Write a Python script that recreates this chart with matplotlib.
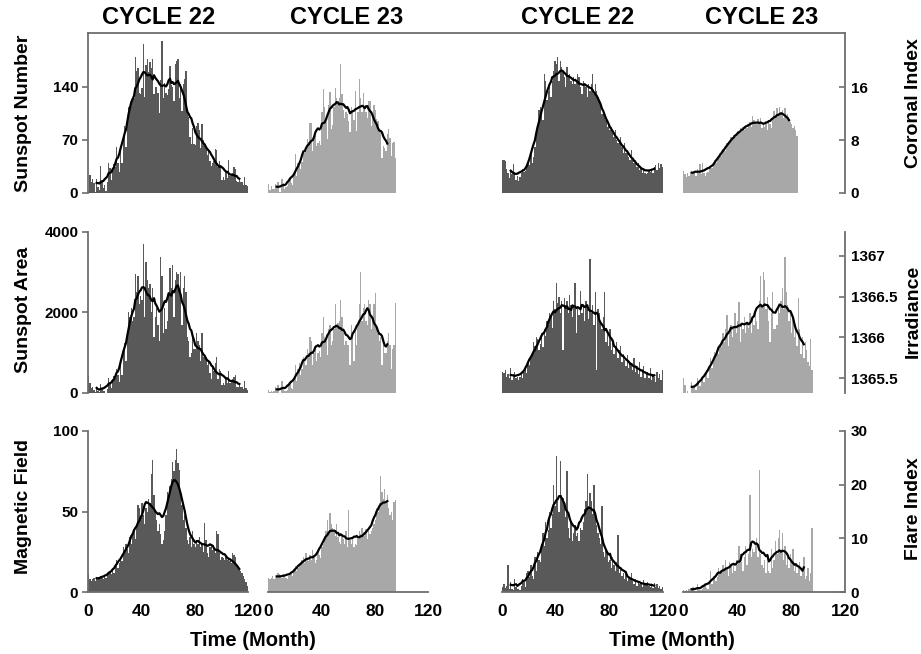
import numpy as np
import pandas as pd
import matplotlib
matplotlib.use("Agg")
import matplotlib.pyplot as plt
from matplotlib.lines import Line2D

plt.rcParams['font.family'] = ['Liberation Sans', 'DejaVu Sans']
plt.rcParams['font.weight'] = 'bold'

# monthly values, cycle 22 from Jan 1986 (120 months), cycle 23 from Jan 1996
ssn_c22 = [2.5, 23.2, 15.1, 18.5, 13.7, 1.1, 18.1, 7.4, 3.8, 35.4, 15.2, 6.8,
           10.4, 2.4, 14.7, 39.6, 33.0, 17.4, 33.0, 38.7, 33.9, 60.6, 39.9, 27.1,
           59.0, 40.0, 76.2, 88.0, 60.1, 101.8, 113.8, 111.6, 120.1, 125.1, 125.1, 179.2,
           161.3, 165.0, 131.4, 130.6, 138.5, 196.2, 126.9, 168.9, 176.7, 159.4, 173.0, 165.5,
           177.3, 130.5, 140.3, 140.3, 132.2, 105.4, 149.4, 200.3, 125.2, 145.5, 131.4, 129.7,
           136.9, 167.5, 141.9, 140.0, 121.3, 169.7, 173.7, 176.3, 125.3, 144.1, 108.2, 144.4,
           150.0, 161.1, 106.7, 99.8, 73.8, 65.2, 85.7, 64.5, 63.9, 88.7, 91.8, 82.6,
           59.3, 91.0, 69.8, 62.2, 61.3, 49.8, 57.9, 42.4, 35.5, 40.1, 42.6, 58.4,
           56.5, 34.6, 42.8, 36.3, 17.5, 21.4, 17.1, 27.3, 19.6, 43.5, 22.0, 24.2,
           26.6, 34.0, 31.1, 16.4, 15.1, 17.7, 14.8, 14.8, 10.2, 21.0, 10.3, 9.4]
ssn_c23 = [11.5, 4.4, 9.2, 4.8, 5.5, 11.8, 8.2, 14.4, 1.6, 0.9, 17.9, 13.3,
           5.7, 7.6, 8.7, 15.5, 18.5, 12.7, 10.4, 24.4, 51.3, 22.8, 39.0, 41.2,
           31.9, 40.3, 54.8, 53.4, 56.3, 70.7, 66.6, 92.2, 92.9, 55.5, 74.0, 81.9,
           62.0, 66.3, 68.8, 63.7, 106.4, 137.7, 113.5, 93.7, 71.5, 116.7, 133.2, 84.6,
           90.1, 112.9, 138.5, 125.5, 121.6, 124.9, 170.1, 130.5, 109.7, 99.4, 106.8, 104.4,
           95.6, 80.6, 113.5, 107.7, 96.6, 134.0, 81.8, 106.4, 150.7, 125.5, 106.5, 132.2,
           114.1, 107.4, 98.4, 120.7, 120.8, 88.3, 99.6, 116.4, 109.6, 97.5, 95.0, 81.6,
           79.5, 46.2, 61.8, 60.0, 55.2, 77.4, 85.0, 72.7, 48.8, 65.5, 67.3, 46.5]

area_c22 = [420, 250, 120, 150, 80, 20, 110, 60, 20, 230, 90, 40,
            60, 10, 90, 380, 260, 120, 300, 420, 380, 600, 450, 280,
            700, 450, 1000, 1250, 800, 1500, 2000, 1900, 2100, 1800, 1900, 2950,
            2500, 2900, 2200, 2400, 2300, 3700, 1900, 3250, 2800, 2600, 2700, 2000,
            2600, 1400, 1900, 2100, 1700, 1300, 3380, 2900, 1500, 2100, 1600, 1800,
            2400, 3100, 2600, 3170, 1900, 2800, 3000, 2950, 2500, 3000, 1700, 2600,
            2900, 2500, 1400, 1300, 900, 1000, 1400, 1100, 1100, 1500, 1300, 1200,
            800, 1500, 900, 950, 900, 700, 800, 500, 350, 650, 550, 750,
            900, 350, 600, 550, 200, 250, 200, 400, 250, 550, 250, 300,
            350, 400, 450, 150, 150, 200, 150, 150, 100, 300, 120, 80]
area_c23 = [80, 20, 60, 30, 40, 150, 80, 200, 10, 5, 300, 160,
            40, 60, 70, 200, 250, 130, 90, 350, 700, 300, 600, 750,
            450, 600, 900, 850, 700, 1100, 1000, 1400, 1300, 700, 1000, 1200,
            800, 1000, 1050, 900, 1500, 1900, 1400, 1300, 950, 1600, 1700, 1200,
            1300, 1600, 2200, 1700, 1750, 1800, 2300, 1900, 1500, 1200, 1300, 1200,
            1200, 700, 1700, 1400, 800, 1600, 1200, 1700, 2200, 3000, 1800, 2100,
            2200, 1800, 1700, 2300, 2200, 1600, 1800, 2200, 2480, 1600, 1500, 1300,
            1400, 700, 1200, 1000, 1000, 1300, 1500, 1200, 600, 1100, 1200, 2230]

mag_c22 = [11, 8, 7, 8, 9, 7, 8, 9, 8, 10, 9, 8,
           10, 9, 11, 12, 13, 11, 14, 12, 16, 20, 15, 18,
           22, 19, 28, 25, 30, 27, 24, 34, 30, 36, 38, 33,
           41, 54, 52, 45, 55, 48, 42, 52, 50, 58, 55, 73,
           82, 60, 50, 45, 38, 42, 36, 30, 32, 38, 48, 62,
           58, 66, 70, 81, 75, 82, 89, 80, 76, 63, 54, 45,
           48, 40, 32, 30, 34, 28, 38, 30, 28, 32, 30, 34,
           28, 30, 25, 43, 32, 24, 22, 28, 30, 26, 27, 24,
           38, 36, 24, 20, 22, 21, 20, 22, 20, 21, 19, 18,
           24, 23, 22, 17, 15, 14, 13, 12, 10, 8, 6, 4]
mag_c23 = [9, 8, 9, 10, 8, 9, 10, 12, 11, 10, 9, 11,
           10, 9, 8, 10, 12, 11, 10, 14, 16, 13, 15, 18,
           17, 20, 22, 18, 24, 21, 19, 23, 20, 26, 22, 18,
           20, 25, 23, 21, 28, 30, 35, 38, 45, 36, 49, 42,
           40, 38, 35, 42, 34, 31, 30, 36, 33, 30, 38, 28,
           51, 32, 30, 34, 28, 30, 29, 33, 38, 36, 40, 37,
           35, 39, 33, 38, 36, 38, 40, 42, 45, 52, 50, 55,
           72, 62, 58, 64, 55, 60, 52, 48, 50, 45, 56, 57]

cor_c22 = [5.0, 5.0, 4.8, 3.6, 3.0, 2.2, 3.4, 2.8, 4.4, 3.2, 2.0, 2.6,
           1.8, 2.4, 3.0, 3.6, 3.2, 3.4, 4.0, 4.6, 4.2, 6.0, 4.5, 5.5,
           7.0, 9.0, 10.0, 12.5, 13.0, 12.0, 11.0, 18.0, 17.0, 14.0, 15.5, 16.5,
           14.5, 17.0, 18.5, 20.0, 19.5, 20.5, 17.0, 20.0, 19.0, 18.5, 17.5, 16.0,
           19.0, 17.5, 18.0, 17.0, 16.5, 17.5, 16.5, 17.0, 18.0, 17.5, 16.0, 15.0,
           17.0, 16.5, 16.0, 14.5, 16.5, 15.5, 16.5, 18.0, 15.0, 16.5, 15.5, 14.5,
           14.0, 13.5, 12.0, 12.5, 11.5, 11.0, 10.0, 10.5, 9.5, 10.0, 9.0, 8.5,
           9.5, 8.0, 7.5, 8.0, 8.5, 7.0, 6.0, 7.5, 6.0, 6.5, 5.5, 5.0,
           6.5, 5.0, 4.5, 5.0, 4.0, 4.5, 3.5, 4.0, 3.0, 3.5, 3.0, 2.8,
           3.0, 3.5, 3.2, 3.6, 3.0, 4.0, 4.2, 3.5, 4.6, 3.8, 4.4, 4.0]
cor_c23 = [3.4, 2.8, 2.4, 3.0, 2.6, 3.2, 3.0, 2.8, 3.4, 2.6, 3.6, 3.0,
           4.4, 2.8, 4.6, 3.0, 2.6, 3.0, 3.2, 3.6, 4.0, 3.8, 4.4, 5.0,
           4.6, 5.0, 5.4, 6.0, 5.6, 6.6, 7.0, 6.4, 7.6, 7.2, 7.8, 8.4,
           8.0, 8.8, 8.4, 9.0, 9.4, 9.0, 9.8, 9.2, 10.0, 9.6, 10.2, 9.8,
           10.4, 10.8, 10.0, 11.6, 11.0, 10.4, 10.8, 11.2, 10.6, 11.4, 9.8, 10.4,
           10.0, 10.8, 9.6, 11.0, 10.4, 9.8, 11.2, 12.4, 11.6, 12.8, 11.8, 13.0,
           12.2, 12.6, 11.4, 12.8, 11.6, 12.0, 11.2, 10.8, 10.4, 9.8, 10.2, 9.6, 8.6]

irr_c22 = [1365.58, 1365.56, 1365.60, 1365.52, 1365.55, 1365.50, 1365.62, 1365.48, 1365.55, 1365.58, 1365.50, 1365.52,
           1365.48, 1365.52, 1365.55, 1365.50, 1365.58, 1365.62, 1365.56, 1365.70, 1365.66, 1365.75, 1365.80, 1365.95,
           1365.90, 1366.00, 1365.98, 1365.85, 1365.92, 1366.05, 1365.88, 1366.10, 1366.02, 1366.20, 1366.15, 1366.30,
           1366.25, 1366.12, 1366.45, 1366.35, 1366.66, 1366.42, 1366.50, 1366.30, 1366.45, 1365.85, 1366.48, 1366.40,
           1366.45, 1366.30, 1366.52, 1366.40, 1366.25, 1366.38, 1366.67, 1366.05, 1366.35, 1366.28, 1366.57, 1366.30,
           1366.40, 1366.20, 1366.45, 1366.35, 1366.22, 1366.96, 1366.30, 1366.40, 1366.15, 1366.55, 1365.60, 1366.35,
           1366.30, 1366.20, 1366.10, 1366.25, 1366.55, 1365.95, 1366.05, 1365.90, 1366.10, 1365.85, 1365.95, 1365.80,
           1365.88, 1365.95, 1365.75, 1365.85, 1365.90, 1365.70, 1365.80, 1365.72, 1365.65, 1365.78, 1365.62, 1365.70,
           1365.68, 1365.60, 1365.75, 1365.58, 1365.65, 1365.55, 1365.70, 1365.52, 1365.60, 1365.65, 1365.50, 1365.56,
           1365.58, 1365.50, 1365.62, 1365.48, 1365.55, 1365.52, 1365.45, 1365.58, 1365.50, 1365.55, 1365.48, 1365.60]
irr_c23 = [1365.50, 1365.42, 1365.30, 1365.35, 1365.32, 1365.30, 1365.45, 1365.38, 1365.42, 1365.36, 1365.50, 1365.45,
           1365.40, 1365.48, 1365.52, 1365.45, 1365.55, 1365.60, 1365.50, 1365.65, 1365.75, 1365.62, 1365.70, 1365.82,
           1365.78, 1365.85, 1365.80, 1365.92, 1365.88, 1366.05, 1365.95, 1366.10, 1366.27, 1365.90, 1366.05, 1366.15,
           1366.00, 1366.10, 1366.30, 1366.05, 1366.20, 1366.43, 1365.95, 1366.15, 1366.10, 1366.25, 1366.05, 1366.18,
           1366.12, 1366.30, 1366.05, 1366.25, 1366.15, 1366.35, 1366.20, 1366.10, 1366.45, 1366.75, 1366.40, 1366.80,
           1366.70, 1366.35, 1366.50, 1366.20, 1365.95, 1366.30, 1366.55, 1366.10, 1366.10, 1366.15, 1366.40, 1366.30,
           1366.45, 1366.60, 1366.35, 1366.98, 1366.55, 1366.40, 1366.20, 1366.30, 1366.05, 1366.25, 1366.00, 1366.15,
           1365.90, 1366.48, 1366.10, 1365.80, 1366.00, 1365.75, 1365.95, 1365.85, 1365.70, 1365.65, 1365.98, 1365.60]

flare_c22 = [1.0, 1.5, 0.8, 1.2, 5.0, 0.5, 1.8, 0.6, 0.4, 2.5, 1.0, 0.5,
             0.6, 0.3, 1.2, 2.5, 1.8, 1.0, 3.5, 4.0, 2.8, 5.0, 3.0, 2.5,
             6.5, 4.0, 7.5, 6.0, 5.5, 9.0, 11.0, 8.5, 13.0, 10.0, 11.5, 15.0,
             12.0, 14.5, 20.0, 16.0, 25.3, 17.0, 15.0, 24.4, 18.0, 17.5, 16.0, 14.0,
             22.5, 12.0, 10.0, 13.0, 9.5, 11.0, 12.5, 10.5, 11.0, 9.5, 12.0, 11.5,
             13.0, 15.5, 17.0, 22.0, 16.0, 18.5, 17.0, 14.5, 20.0, 15.0, 12.5, 11.0,
             10.0, 9.0, 16.0, 7.5, 6.5, 8.0, 7.0, 5.5, 6.0, 4.5, 6.5, 5.0,
             4.0, 5.5, 10.6, 3.5, 4.5, 3.0, 3.5, 2.5, 4.0, 2.0, 3.0, 2.5,
             3.5, 2.0, 1.5, 2.5, 1.2, 2.0, 1.5, 1.8, 1.0, 2.2, 1.4, 1.6,
             1.8, 1.2, 1.0, 1.5, 0.8, 1.6, 1.0, 1.4, 0.8, 1.2, 0.6, 1.0]
flare_c23 = [0.3, 0.1, 0.4, 0.2, 0.5, 0.8, 0.3, 1.0, 0.2, 0.1, 1.5, 0.8,
             0.4, 0.3, 0.6, 1.2, 1.5, 0.8, 0.6, 2.0, 4.0, 1.5, 3.0, 2.5,
             2.0, 2.8, 4.5, 3.5, 4.0, 5.0, 4.2, 6.0, 4.5, 3.0, 5.5, 4.8,
             3.5, 5.0, 4.0, 6.0, 5.0, 8.5, 7.0, 5.5, 4.0, 6.5, 8.5, 5.0,
             7.0, 18.0, 6.5, 8.0, 7.5, 9.0, 10.0, 6.5, 22.7, 7.0, 5.0, 4.5,
             6.0, 3.5, 5.5, 4.0, 3.5, 8.0, 4.5, 6.0, 9.5, 7.0, 10.0, 11.5,
             7.5, 11.0, 6.0, 8.5, 5.0, 6.5, 4.5, 7.0, 5.5, 8.0, 4.0, 5.0,
             3.5, 4.5, 5.5, 3.0, 4.0, 6.5, 2.5, 3.0, 4.5, 2.0, 3.5, 12.0]

x_ticks = [0, 40, 80, 120]
dark = '#595959'
light = '#a8a8a8'
axis_col = '#6e6e6e'

W, H = 921, 654
fig = plt.figure(figsize=(W / 100, H / 100), dpi=100)

def add_ax(x0, x1, y0, y1):
    return fig.add_axes([x0 / W, 1 - y1 / H, (x1 - x0) / W, (y1 - y0) / H])

rows = [(33, 193), (232, 393), (431, 592)]
cols = [(88, 248), (268, 428), (502, 663), (683, 845)]

panels = [
    [(ssn_c22, ssn_c23, (0, 211), [0, 70, 140], ['0', '70', '140']),
     (cor_c22, cor_c23, (0, 24.2), [0, 8, 16], ['0', '8', '16'])],
    [(area_c22, area_c23, (0, 4000), [0, 2000, 4000], ['0', '2000', '4000']),
     (irr_c22, irr_c23, (1365.32, 1367.29), [1365.5, 1366, 1366.5, 1367],
      ['1365.5', '1366', '1366.5', '1367'])],
    [(mag_c22, mag_c23, (0, 100), [0, 50, 100], ['0', '50', '100']),
     (flare_c22, flare_c23, (0, 30), [0, 10, 20, 30], ['0', '10', '20', '30'])],
]

def draw(ax, vals, color, ylim):
    vals = np.asarray(vals, dtype=float)
    x = np.arange(len(vals))
    ax.bar(x, vals, width=1.0, align='edge', color=color, linewidth=0)
    smooth = pd.Series(vals).rolling(13, center=True).mean()
    ax.plot(x + 0.5, smooth, color='black', lw=1.6)
    ax.set_xlim(0, 120)
    ax.set_ylim(*ylim)
    for s in ax.spines.values():
        s.set_visible(False)
        s.set_color(axis_col)
        s.set_linewidth(1.3)
    ax.set_facecolor('none')

for r, (y0, y1) in enumerate(rows):
    for g in range(2):
        c22, c23, ylim, yt, ytl = panels[r][g]
        axA = add_ax(*cols[2 * g], y0, y1)
        axB = add_ax(*cols[2 * g + 1], y0, y1)
        draw(axA, c22, dark, ylim)
        draw(axB, c23, light, ylim)
        for ax in (axA, axB):
            if r == 2:
                ax.spines['bottom'].set_visible(True)
                ax.set_xticks(x_ticks)
                ax.set_xticklabels([str(t) for t in x_ticks])
                ax.tick_params(axis='x', length=0, pad=9, labelsize=12.5)
            else:
                ax.set_xticks([])
            ax.set_yticks([])
        if g == 0:
            axA.spines['left'].set_visible(True)
            axA.set_yticks(yt)
            axA.set_yticklabels(ytl)
            axA.tick_params(axis='y', direction='out', length=4, width=1.2,
                            color=axis_col, labelsize=11, pad=3)
        else:
            axB.spines['right'].set_visible(True)
            axB.yaxis.tick_right()
            axB.set_yticks(yt)
            axB.set_yticklabels(ytl)
            axB.tick_params(axis='y', direction='in', length=4, width=1.2,
                            color=axis_col, labelsize=11, pad=4)

# top frame line across the first row
fig.add_artist(Line2D([88 / W, 845 / W], [1 - 33 / H, 1 - 33 / H],
                      transform=fig.transFigure, color=axis_col, lw=1.3))

def ftext(x, y, s, **kw):
    fig.text(x / W, 1 - y / H, s, ha='center', va='center', weight='bold', **kw)

for x, s in [(159, 'CYCLE 22'), (347, 'CYCLE 23'), (578, 'CYCLE 22'), (762, 'CYCLE 23')]:
    ftext(x, 18, s, fontsize=17)

for y, s in [(113, 'Sunspot Number'), (310, 'Sunspot Area'), (507, 'Magnetic Field')]:
    ftext(24, y, s, fontsize=14, rotation=90)
for y, s in [(103, 'Coronal Index'), (311, 'Irradiance'), (509, 'Flare Index')]:
    ftext(913, y, s, fontsize=14, rotation=90)

ftext(253, 640, 'Time (Month)', fontsize=14.5)
ftext(672, 640, 'Time (Month)', fontsize=14.5)

fig.savefig('out.png', dpi=100)
